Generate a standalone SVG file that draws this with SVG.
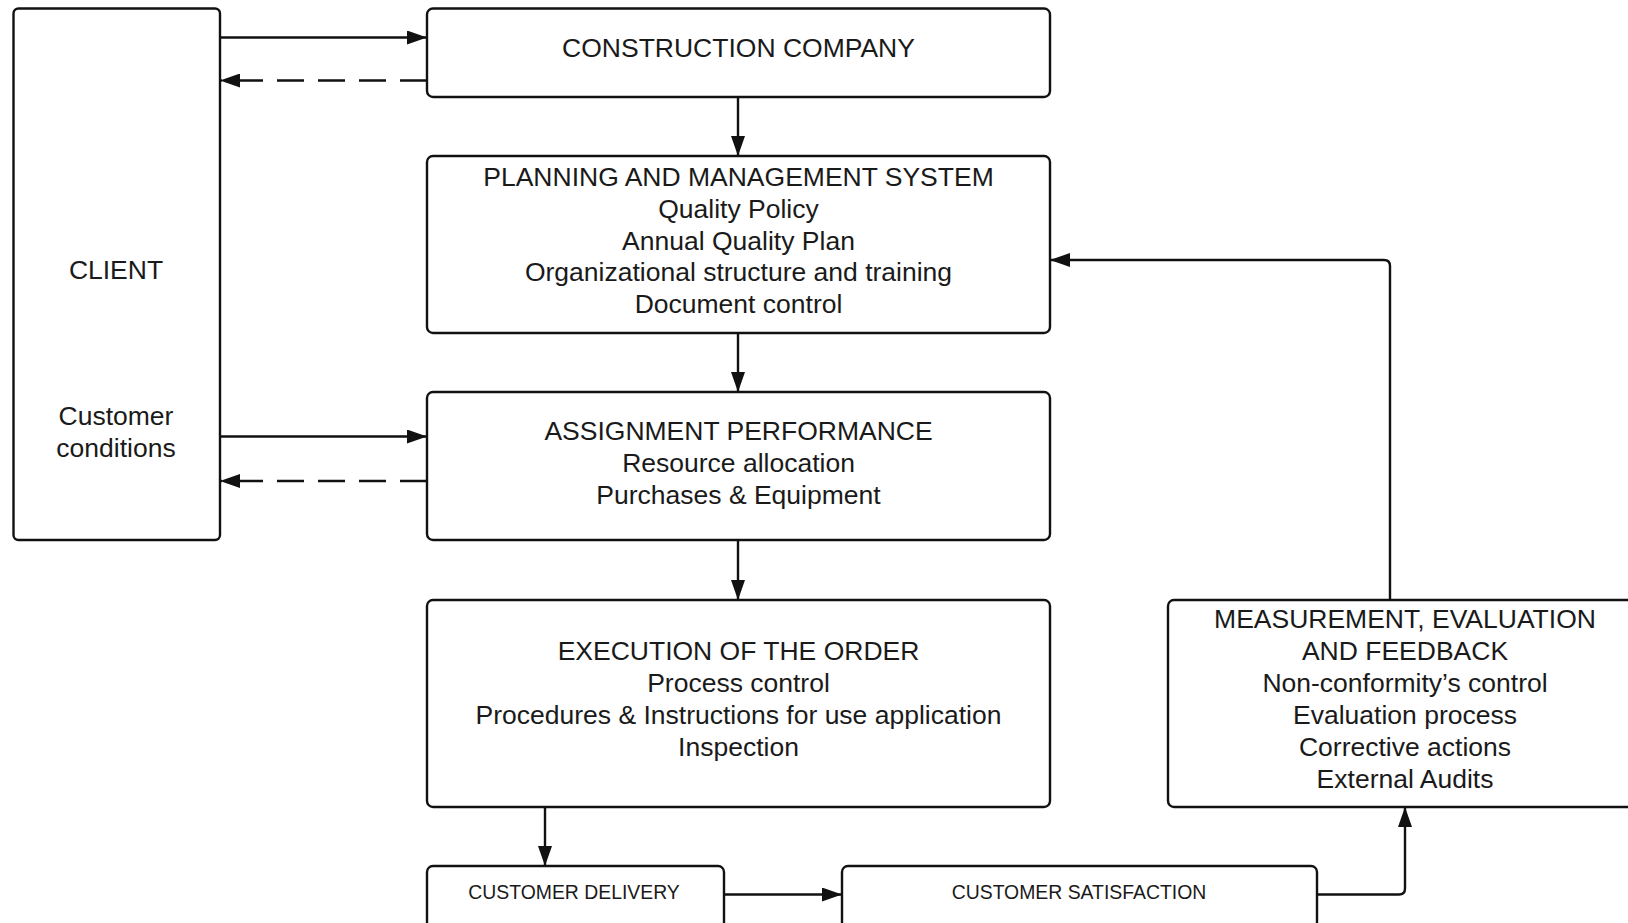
<svg xmlns="http://www.w3.org/2000/svg" width="1628" height="923" viewBox="0 0 1628 923">
<style>
.box{fill:#fff;stroke:#111;stroke-width:2.4}
.t{font-family:"Liberation Sans",Arial,sans-serif;font-size:26.5px;fill:#1a1a1a;text-anchor:middle}
.s{font-family:"Liberation Sans",Arial,sans-serif;font-size:19.4px;fill:#1a1a1a;text-anchor:middle}
.c{fill:none;stroke:#111;stroke-width:2.4}
.d{stroke-dasharray:27 14}
</style>
<defs>
<marker id="ah" viewBox="0 0 20 14" refX="20" refY="7" markerUnits="userSpaceOnUse" markerWidth="20" markerHeight="14" orient="auto">
<path d="M0,0 L20,7 L0,14 z" fill="#111"/>
</marker>
</defs>
<rect width="1628" height="923" fill="#fff"/>
<g id="connectors">
<path class="c" d="M220,37.5 H427" marker-end="url(#ah)"/>
<path class="c d" d="M427,80.5 H220" marker-end="url(#ah)"/>
<path class="c" d="M738,97 V156" marker-end="url(#ah)"/>
<path class="c" d="M738,333 V392" marker-end="url(#ah)"/>
<path class="c" d="M738,540 V600" marker-end="url(#ah)"/>
<path class="c" d="M220,436.5 H427" marker-end="url(#ah)"/>
<path class="c d" d="M427,481 H220" marker-end="url(#ah)"/>
<path class="c" d="M545,807 V866" marker-end="url(#ah)"/>
<path class="c" d="M724,894.5 H842" marker-end="url(#ah)"/>
<path class="c" d="M1317,894.5 H1399 Q1405,894.5 1405,888.5 V807" marker-end="url(#ah)"/>
<path class="c" d="M1390,600 V266 Q1390,260 1384,260 H1050" marker-end="url(#ah)"/>
</g>
<g id="client">
<rect class="box" x="13.5" y="8.5" width="206.5" height="531.5" rx="5"/>
<text class="t" x="116" y="279">CLIENT</text>
<text class="t" x="116" y="425">Customer</text>
<text class="t" x="116" y="457">conditions</text>
</g>
<g id="construction">
<rect class="box" x="427" y="8.5" width="623" height="88.5" rx="6"/>
<text class="t" x="738.5" y="57">CONSTRUCTION COMPANY</text>
</g>
<g id="planning">
<rect class="box" x="427" y="156" width="623" height="177" rx="6"/>
<text class="t" x="738.5" y="186">PLANNING AND MANAGEMENT SYSTEM</text>
<text class="t" x="738.5" y="218">Quality Policy</text>
<text class="t" x="738.5" y="249.5">Annual Quality Plan</text>
<text class="t" x="738.5" y="281">Organizational structure and training</text>
<text class="t" x="738.5" y="312.5">Document control</text>
</g>
<g id="assignment">
<rect class="box" x="427" y="392" width="623" height="148" rx="6"/>
<text class="t" x="738.5" y="440">ASSIGNMENT PERFORMANCE</text>
<text class="t" x="738.5" y="471.5">Resource allocation</text>
<text class="t" x="738.5" y="503.5">Purchases &amp; Equipment</text>
</g>
<g id="execution">
<rect class="box" x="427" y="600" width="623" height="207" rx="6"/>
<text class="t" x="738.5" y="660">EXECUTION OF THE ORDER</text>
<text class="t" x="738.5" y="692">Process control</text>
<text class="t" x="738.5" y="724">Procedures &amp; Instructions for use application</text>
<text class="t" x="738.5" y="756">Inspection</text>
</g>
<g id="measurement">
<rect class="box" x="1168" y="600" width="472" height="207" rx="6"/>
<text class="t" x="1405" y="628">MEASUREMENT, EVALUATION</text>
<text class="t" x="1405" y="660">AND FEEDBACK</text>
<text class="t" x="1405" y="692">Non-conformity’s control</text>
<text class="t" x="1405" y="724">Evaluation process</text>
<text class="t" x="1405" y="756">Corrective actions</text>
<text class="t" x="1405" y="788">External Audits</text>
</g>
<g id="delivery">
<rect class="box" x="427" y="866" width="297" height="62" rx="6"/>
<text class="s" x="574" y="899">CUSTOMER DELIVERY</text>
</g>
<g id="satisfaction">
<rect class="box" x="842" y="866" width="475" height="62" rx="6"/>
<text class="s" x="1079" y="899">CUSTOMER SATISFACTION</text>
</g>
</svg>
